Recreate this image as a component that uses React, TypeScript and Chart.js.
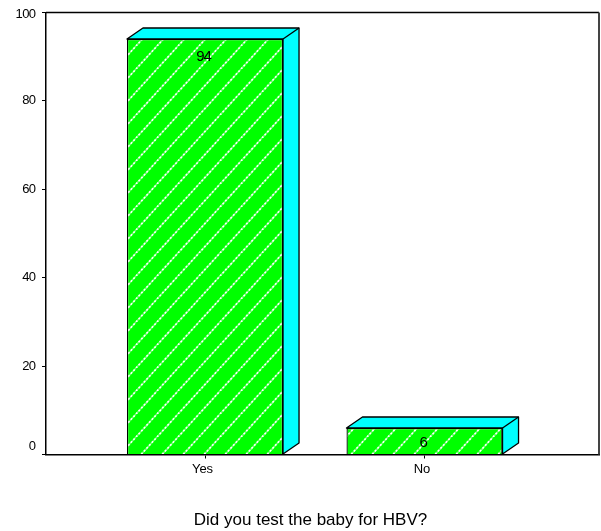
import React, { useEffect, useRef } from "react";
import { Chart, registerables } from "chart.js";

Chart.register(...registerables);

const categories = ["Yes", "No"];
const percentages = [94, 6];
const axisTicks = [0, 20, 40, 60, 80, 100];
const axisTitle = "Did you test the baby for HBV?";

const FONT = "'Liberation Sans', Arial, sans-serif";
const DEPTH_X = 16;
const DEPTH_Y = 11;

// Nudges for the end labels of the value axis, which sit inside the frame's corners.
const yLabelNudge: Record<number, number> = { 0: -8, 100: 2 };

// Diagonal dotted hatch over a green ground; the tile repeats seamlessly.
function hatchPattern(ctx: CanvasRenderingContext2D): CanvasPattern {
  const w = 21;
  const h = 23;
  const phase = 10;
  const tile = document.createElement("canvas");
  tile.width = w;
  tile.height = h;
  const t = tile.getContext("2d")!;
  t.fillStyle = "#00ff00";
  t.fillRect(0, 0, w, h);
  for (const off of [-w, 0, w]) {
    t.strokeStyle = "#70ff70";
    t.lineWidth = 1.6;
    t.setLineDash([]);
    t.beginPath();
    t.moveTo(off + phase, h);
    t.lineTo(off + phase + w, 0);
    t.stroke();
    t.strokeStyle = "#ffffff";
    t.lineWidth = 1.6;
    t.setLineDash([1.9, 2]);
    t.beginPath();
    t.moveTo(off + phase, h);
    t.lineTo(off + phase + w, 0);
    t.stroke();
  }
  return ctx.createPattern(tile, "repeat")!;
}

const drawText = (
  ctx: CanvasRenderingContext2D,
  text: string,
  x: number,
  y: number,
  size: number,
  align: CanvasTextAlign,
  spacing: string,
) => {
  ctx.save();
  ctx.fillStyle = "#000";
  ctx.font = `${size}px ${FONT}`;
  ctx.textAlign = align;
  ctx.textBaseline = "middle";
  (ctx as any).letterSpacing = spacing;
  ctx.fillText(text, x, y);
  ctx.restore();
};

// Draws the cyan top and side faces behind each bar, the value inside it,
// the frame around the plot and the text the axes cannot place themselves.
const extrudedBars = {
  id: "extrudedBars",
  beforeDatasetsDraw(chart: any) {
    const { ctx } = chart;
    chart.getDatasetMeta(0).data.forEach((bar: any) => {
      const half = bar.width / 2;
      const l = bar.x - half;
      const r = bar.x + half;
      const t = bar.y;
      const b = bar.base;
      ctx.save();
      ctx.fillStyle = "#00ffff";
      ctx.strokeStyle = "#000";
      ctx.lineWidth = 1.3;
      ctx.lineJoin = "round";
      ctx.beginPath();
      ctx.moveTo(l, t);
      ctx.lineTo(l + DEPTH_X, t - DEPTH_Y);
      ctx.lineTo(r + DEPTH_X, t - DEPTH_Y);
      ctx.lineTo(r + DEPTH_X, b - DEPTH_Y);
      ctx.lineTo(r, b);
      ctx.lineTo(r, t);
      ctx.closePath();
      ctx.fill();
      ctx.stroke();
      ctx.beginPath();
      ctx.moveTo(r, t);
      ctx.lineTo(r + DEPTH_X, t - DEPTH_Y);
      ctx.stroke();
      ctx.restore();
    });
  },
  afterDatasetsDraw(chart: any) {
    const { ctx, chartArea, scales } = chart;
    chart.getDatasetMeta(0).data.forEach((bar: any, i: number) => {
      drawText(ctx, String(percentages[i]), bar.x - 1.5, bar.y + (i === 0 ? 17.5 : 15), 15, "center", "-1.2px");
    });
    ctx.save();
    ctx.strokeStyle = "#000";
    ctx.lineWidth = 1.3;
    ctx.beginPath();
    ctx.moveTo(chartArea.left, chartArea.top);
    ctx.lineTo(chartArea.right, chartArea.top);
    ctx.stroke();
    ctx.strokeStyle = "#444";
    ctx.lineWidth = 2;
    ctx.beginPath();
    ctx.moveTo(chartArea.right, chartArea.top);
    ctx.lineTo(chartArea.right, chartArea.bottom);
    ctx.stroke();
    ctx.restore();
    axisTicks.forEach((v) => {
      drawText(ctx, String(v), 35.5, scales.y.getPixelForValue(v) + (yLabelNudge[v] ?? 0), 13, "right", "-0.6px");
    });
    drawText(ctx, axisTitle, 310.5, 520, 17, "center", "0px");
  },
};

export default function App() {
  const ref = useRef<HTMLCanvasElement>(null);

  useEffect(() => {
    const canvas = ref.current!;
    const chart = new Chart(canvas, {
      type: "bar",
      plugins: [extrudedBars],
      data: {
        datasets: [
          {
            data: percentages.map((y, x) => ({ x, y })),
            backgroundColor: hatchPattern(canvas.getContext("2d")!),
            borderColor: "#000",
            borderWidth: 1.3,
            barPercentage: 0.711,
            categoryPercentage: 1,
          },
        ],
      },
      options: {
        responsive: false,
        animation: false,
        layout: { padding: { top: 12.5, left: 0, right: 2, bottom: 0 } },
        plugins: { legend: { display: false }, tooltip: { enabled: false } },
        scales: {
          x: {
            type: "linear",
            offset: false,
            min: -0.7244,
            max: 1.795,
            afterBuildTicks: (axis: any) => {
              axis.ticks = categories.map((_, value) => ({ value }));
            },
            afterFit: (axis: any) => {
              axis.height = 76.5;
            },
            grid: { offset: false, drawOnChartArea: false, tickLength: 4, tickColor: "#000" },
            border: { color: "#000", width: 1.5 },
            ticks: {
              color: "#000",
              font: { family: FONT, size: 13 },
              padding: 3,
              maxRotation: 0,
              labelOffset: -2.5,
              callback: (value: any) => categories[value as number],
            },
          },
          y: {
            min: 0,
            max: 100,
            afterBuildTicks: (axis: any) => {
              axis.ticks = axisTicks.map((value) => ({ value }));
            },
            afterFit: (axis: any) => {
              axis.width = 46;
            },
            grid: { drawOnChartArea: false, tickLength: 4, tickColor: "#000" },
            border: { color: "#000", width: 1.5 },
            ticks: { display: false },
          },
        },
      },
    } as any);
    return () => chart.destroy();
  }, []);

  return (
    <div style={{ position: "absolute", left: 0, top: 0 }}>
      <canvas ref={ref} width={601} height={531} style={{ display: "block" }} />
    </div>
  );
}
